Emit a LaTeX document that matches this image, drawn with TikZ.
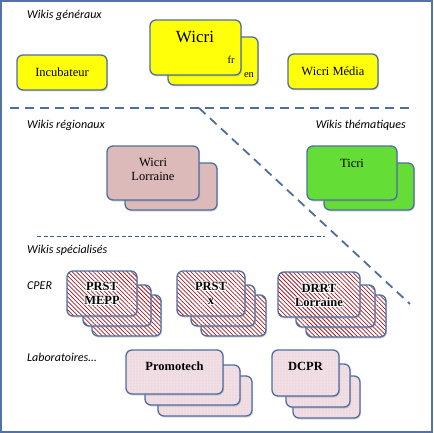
\documentclass[tikz,border=0pt]{standalone}
\usepackage{fontspec}
\setmainfont{Liberation Serif}
\newfontfamily\labfont{Carlito}
\usepackage[copies]{contour}
\contourlength{0.7pt}
\usetikzlibrary{patterns,patterns.meta,shadows}
\definecolor{framec}{RGB}{84,114,164}
\definecolor{edgec}{RGB}{79,110,160}
\definecolor{ylw}{RGB}{255,255,10}
\definecolor{rosec}{RGB}{220,186,186}
\definecolor{greenc}{RGB}{100,222,55}
\definecolor{labpink}{RGB}{238,218,224}
\definecolor{hatchred}{RGB}{160,30,40}
\definecolor{thindash}{RGB}{60,85,130}
\tikzset{
  boxbase/.style={draw=edgec, line width=1.3pt, rounded corners=6pt, inner sep=0pt,
    drop shadow={shadow xshift=1pt, shadow yshift=-1.5pt, opacity=0.3}},
  ybox/.style={boxbase, fill=ylw},
  rbox/.style={boxbase, fill=rosec},
  gbox/.style={boxbase, fill=greenc},
  hbox/.style={boxbase, preaction={fill=white}, pattern={Lines[angle=-45, distance=3pt, line width=0.75pt]}, pattern color=hatchred},
  dbox/.style={boxbase, preaction={fill=labpink}, pattern=dots, pattern color=white},
  lab/.style={font=\labfont\itshape\fontsize{12}{14}\selectfont, inner sep=0pt},
  txt/.style={font=\fontsize{12.5}{14}\selectfont, align=center, inner sep=0pt},
  btxt/.style={font=\bfseries\fontsize{12.5}{14}\selectfont, align=center, inner sep=0pt},
  bigdash/.style={draw=edgec, line width=1.8pt, dash pattern=on 9pt off 6pt},
  smalldash/.style={draw=thindash, line width=0.7pt, dash pattern=on 4pt off 2.5pt}
}
\begin{document}
\begin{tikzpicture}[x=1pt,y=-1pt]
\useasboundingbox (0,0) rectangle (433,433);
\fill[white] (0,0) rectangle (433,433);
\draw[framec, line width=2pt] (1,1) rectangle (432,432);

% dashed separators
\coordinate (h1) at (10,108);
\coordinate (h2) at (415,108);
\coordinate (d1) at (199,108);
\coordinate (d2) at (410,304);
\coordinate (t1) at (37,236);
\coordinate (t2) at (325,236);
\draw[bigdash] (h1) -- (h2);
\draw[bigdash] (d1) -- (d2);
\draw[smalldash] (t1) -- (t2);

% labels
\node[lab, anchor=west] (lgen) at (27,15) {Wikis généraux};
\node[lab, anchor=west] (lreg) at (27,125) {Wikis régionaux};
\node[lab, anchor=east] (lthe) at (406,125) {Wikis thématiques};
\node[lab, anchor=west] (lspe) at (27,250) {Wikis spécialisés};
\node[lab, anchor=west] (lcper) at (27,286) {CPER};
\node[lab, anchor=west] (llab) at (27,357) {Laboratoires…};

% general wikis
\node[ybox, minimum width=90pt, minimum height=35pt] (incub) at (62,72.5) {};
\node[txt] (incubt) at (incub.center) {Incubateur};
\node[ybox, minimum width=90pt, minimum height=48pt] (wicrien) at (213,61) {};
\node[ybox, minimum width=91pt, minimum height=55pt] (wicrifr) at (195.5,47.5) {};
\node[txt, font=\fontsize{17}{19}\selectfont] (wicrit) at (195,37) {Wicri};
\node[txt, font=\fontsize{10.5}{12}\selectfont] (frt) at (231,60) {fr};
\node[txt, font=\fontsize{10.5}{12}\selectfont] (ent) at (249,75) {en};
\node[ybox, minimum width=90pt, minimum height=35pt] (media) at (333,71.5) {};
\node[txt] (mediat) at (media.center) {Wicri Média};

% regional / thematic
\node[rbox, minimum width=92pt, minimum height=47pt] (wlb) at (171,186.5) {};
\node[rbox, minimum width=92pt, minimum height=54pt] (wl) at (153,173) {};
\node[txt] (wlt) at (153,169) {Wicri\\Lorraine};
\node[gbox, minimum width=90pt, minimum height=47pt] (ticrib) at (369,186.5) {};
\node[gbox, minimum width=90pt, minimum height=54pt] (ticri) at (352,173) {};
\node[txt] (ticrit) at (352,163) {Ticri};

% CPER
\node[hbox, minimum width=69pt, minimum height=41pt] (mepp3) at (126.5,315.5) {};
\node[hbox, minimum width=68pt, minimum height=41pt] (mepp2) at (117,305.5) {};
\node[hbox, minimum width=70pt, minimum height=45pt] (mepp) at (102,293.5) {};
\node[btxt] (meppt) at (102,294) {\contour{white}{PRST}\\\contour{white}{MEPP}};

\node[hbox, minimum width=65pt, minimum height=41pt] (prst3) at (233.5,315.5) {};
\node[hbox, minimum width=64pt, minimum height=41pt] (prst2) at (223,305.5) {};
\node[hbox, minimum width=68pt, minimum height=45pt] (prst) at (211,293.5) {};
\node[btxt] (prstt) at (211,294) {\contour{white}{PRST}\\\contour{white}{x}};

\node[hbox, minimum width=80pt, minimum height=42pt] (drrt3) at (346,316) {};
\node[hbox, minimum width=79pt, minimum height=42pt] (drrt2) at (335.5,306) {};
\node[hbox, minimum width=82pt, minimum height=45pt] (drrt) at (319,294.5) {};
\node[btxt] (drrtt) at (319,296) {\contour{white}{DRRT}\\\contour{white}{Lorraine}};

% laboratories
\node[dbox, minimum width=94pt, minimum height=40pt] (promo3) at (205,396) {};
\node[dbox, minimum width=95pt, minimum height=40pt] (promo2) at (192.5,385) {};
\node[dbox, minimum width=97pt, minimum height=44pt] (promo) at (174.5,372) {};
\node[btxt] (promot) at (174.5,366) {Promotech};

\node[dbox, minimum width=67pt, minimum height=42pt] (dcpr3) at (326.5,397) {};
\node[dbox, minimum width=64pt, minimum height=43pt] (dcpr2) at (318,385.5) {};
\node[dbox, minimum width=67pt, minimum height=46pt] (dcpr) at (305.5,373) {};
\node[btxt] (dcprt) at (305.5,366) {DCPR};
\end{tikzpicture}
\end{document}
